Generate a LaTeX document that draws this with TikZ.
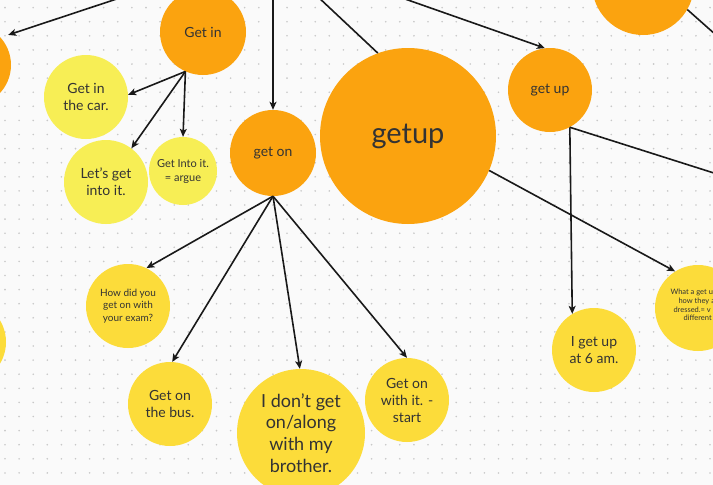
\documentclass[tikz,border=0pt]{standalone}
\usepackage{fontspec}
\setmainfont{Lato}
\usetikzlibrary{positioning, arrows.meta}

\definecolor{boardbg}{HTML}{FAFAFA}
\definecolor{dotgray}{HTML}{C8C8C8}
\definecolor{bigorange}{HTML}{FBA30F}
\definecolor{deepyellow}{HTML}{FCDC3A}
\definecolor{paleyellow}{HTML}{F7EE55}
\definecolor{inkgray}{HTML}{333333}

\newcommand{\fsz}[2]{\fontsize{#1}{#2}\selectfont}
\newcommand{\sq}{{\char"27}}

\begin{document}
\begin{tikzpicture}[x=1pt, y=-1pt,
  bubble/.style={circle, inner sep=0pt, draw=none, align=center, text=inkgray},
  orangebub/.style={bubble, fill=bigorange},
  yellowbub/.style={bubble, fill=deepyellow},
  palebub/.style={bubble, fill=paleyellow},
  link/.style={-{Stealth[length=8pt, width=7pt, inset=2pt]}, line width=1.6pt, black!90},
  plainlink/.style={-, line width=1.6pt, black!90},
]

% board with dots
\useasboundingbox (0,0) rectangle (713,485);
\clip (0,0) rectangle (713,485);
\fill[boardbg] (0,0) rectangle (713,485);
\foreach \i in {0,...,50} {
  \foreach \j in {0,...,34} {
    \fill[dotgray] (5+\i*14.1, 7.6+\j*14.1) circle (0.9pt);
  }
}

% =========================
% orange bubbles (verbs)
% =========================
\node[orangebub, minimum size=82pt] (leftorange) at (-30,65) {};
\node[orangebub, minimum size=102pt] (toporange) at (643,-16) {};
\node[orangebub, minimum size=86pt, font=\fsz{14}{17}] (getin) at (203,32) {Get in};
\node[orangebub, minimum size=86pt, font=\fsz{14}{17}] (geton) at (273,153) {get on};
\node[orangebub, minimum size=176pt, font=\fsz{29}{34}] (bigup) at (408,136) {getup};
\node[orangebub, minimum size=84pt, font=\fsz{14}{17}] (smallup) at (550,90) {get up};

% =========================
% Get in examples
% =========================
\node[palebub, minimum size=84pt, font=\fsz{14}{17}] (car) at (86,97) {Get in\\the car.};
\node[palebub, minimum size=84pt, font=\fsz{14}{17}] (lets) at (106,182) {Let\sq s get\\into it.};
\node[palebub, minimum size=68pt, font=\fsz{11}{14}] (argue) at (183,171) {Get Into it.\\= argue};

% =========================
% get on examples
% =========================
\node[yellowbub, minimum size=84pt, font=\fsz{10}{12.5}] (exam) at (128,306) {How did you\\get on with\\your exam?};
\node[yellowbub, minimum size=84pt, font=\fsz{14}{17}] (bus) at (170,404) {Get on\\the bus.};
\node[yellowbub, minimum size=128pt, font=\fsz{18}{21.7}] (brother) at (301,433) {I don\sq t get\\on/along\\with my\\brother.};
\node[yellowbub, minimum size=84pt, font=\fsz{14}{17}] (withit) at (407,400) {Get on\\with it. -\\start};
\node[yellowbub, minimum size=84pt] (leftyellow) at (-36,342) {};

% =========================
% get up examples
% =========================
\node[yellowbub, minimum size=84pt, font=\fsz{14}{16.5}] (igetup) at (594,350) {I get up\\at 6 am.};
\node[yellowbub, minimum size=86pt] (whatget) at (698,308) {};
\node[anchor=west, align=left, text=inkgray, font=\fsz{7.5}{8.6}] (whatgettext) at (667,305)
  {What a get u\\\hspace*{8pt}how they a\\\hspace*{3pt}dressed.= v\\\hspace*{13pt}different};

% off-board ends
\coordinate (offA) at (174,-20);
\coordinate (offB) at (273,-20);
\coordinate (offC) at (300,-20);
\coordinate (offD) at (351,-20);
\coordinate (offE) at (760,74);
\coordinate (offF) at (780,194);

% connectors
\draw[link, shorten >=8pt] (offA) -- (leftorange.42);
\draw[link] (offB) -- (geton.north);
\draw[plainlink] (offC) -- (bigup.110);
\draw[link] (offD) -- (smallup.97);
\draw[plainlink] (toporange.-30) -- (offE);
\draw[plainlink] (smallup.-62) -- (offF);

\draw[link] (getin.-114) -- (car.3);
\draw[link] (getin.-114) -- (lets.53);
\draw[link] (getin.-114) -- (argue.north);

\draw[link] (geton.south) -- (exam.64);
\draw[link] (geton.south) -- (bus.87);
\draw[link] (geton.south) -- (brother.91);
\draw[link] (geton.south) -- (withit.north);

\draw[link] (smallup.-62) -- (igetup.121);
\draw[link] (bigup.-23) -- (whatget.122);

\end{tikzpicture}
\end{document}
